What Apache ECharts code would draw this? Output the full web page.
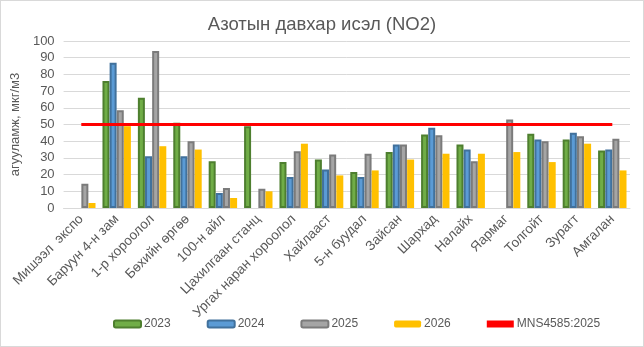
<!DOCTYPE html>
<html><head><meta charset="utf-8">
<script src="https://cdn.jsdelivr.net/npm/echarts@6/dist/echarts.min.js"></script>
<style>html,body{margin:0;padding:0;background:#fff}#c{width:642px;height:345px;border:1px solid #d9d9d9}</style>
</head><body><div id="c"></div>
<script>
const categories = ["Мишээл  экспо","Баруун 4-н зам","1-р хороолол","Бөхийн өргөө","100-н айл","Цахилгаан станц","Ургах наран хороолол","Хайлааст","5-н буудал","Зайсан","Шархад","Налайх","Яармаг","Толгойт","Зурагт","Амгалан"];
const v2023 = [null,76,66,51,28,49,27.5,29,21.5,33.5,44,38,null,44.5,41,34.5];
const v2024 = [null,87,31,31,9,null,18.5,23,18.5,38,48,35,null,41,45,35];
const v2025 = [14.5,58.5,94,40,12,11.5,34,32,32.5,38,43.5,28,53,40,43,41.5];
const v2026 = [3,49,37,35,6,10,38.5,19.5,22.5,29,32.5,32.5,33.5,27.5,38.5,22.5];
const mns = [50,50,50,50,50,50,50,50,50,50,50,50,50,50,50,50];
const yTicks = {min:0,max:100,interval:10};

const font = '"Liberation Sans", Arial, sans-serif';
const txt = '#595959';
function bar(name, data, fill, border){
  return {name, type:'bar', data, barWidth:7, barGap:'2%', barCategoryGap:'20%',
    itemStyle:{color:fill, borderColor:border||fill, borderWidth:border?2:0}};
}
const chart = echarts.init(document.getElementById('c'), null, {renderer:'canvas'});
chart.setOption({
  animation:false,
  textStyle:{fontFamily:font},
  title:{text:'Азотын давхар исэл (NO2)', left:'center', top:9,
    textStyle:{fontFamily:font,fontSize:18.5,fontWeight:'normal',color:txt}},
  grid:{left:62,right:13,top:40,bottom:138},
  legend:{bottom:11,left:107,itemWidth:27,itemHeight:7,itemGap:36,
    textStyle:{fontFamily:font,fontSize:12,color:txt,padding:[0,0,0,-2]},
    data:['2023','2024','2025','2026',{name:'MNS4585:2025',icon:'rect'}]},
  xAxis:{type:'category',data:categories,
    axisLine:{lineStyle:{color:'#d9d9d9'}},axisTick:{show:false},
    axisLabel:{rotate:45,interval:0,fontSize:13.5,color:txt,fontFamily:font,margin:9}},
  yAxis:{type:'value',min:yTicks.min,max:yTicks.max,interval:yTicks.interval,
    name:'агууламж, мкг/м3',nameLocation:'middle',nameGap:31,
    nameTextStyle:{fontFamily:font,fontSize:13,color:txt},
    axisLine:{show:false},axisTick:{show:false},
    axisLabel:{fontSize:13,color:txt,fontFamily:font,margin:9},
    splitLine:{lineStyle:{color:'#d9d9d9'}}},
  series:[
    bar('2023',v2023,'#70ad47','#4e7f2f'),
    bar('2024',v2024,'#5b9bd5','#41719c'),
    bar('2025',v2025,'#a5a5a5','#7b7b7b'),
    bar('2026',v2026,'#ffc000'),
    {name:'MNS4585:2025',type:'line',data:mns,symbol:'none',
     lineStyle:{color:'#ff0000',width:3},itemStyle:{color:'#ff0000'},z:5}
  ]
});
</script></body></html>
